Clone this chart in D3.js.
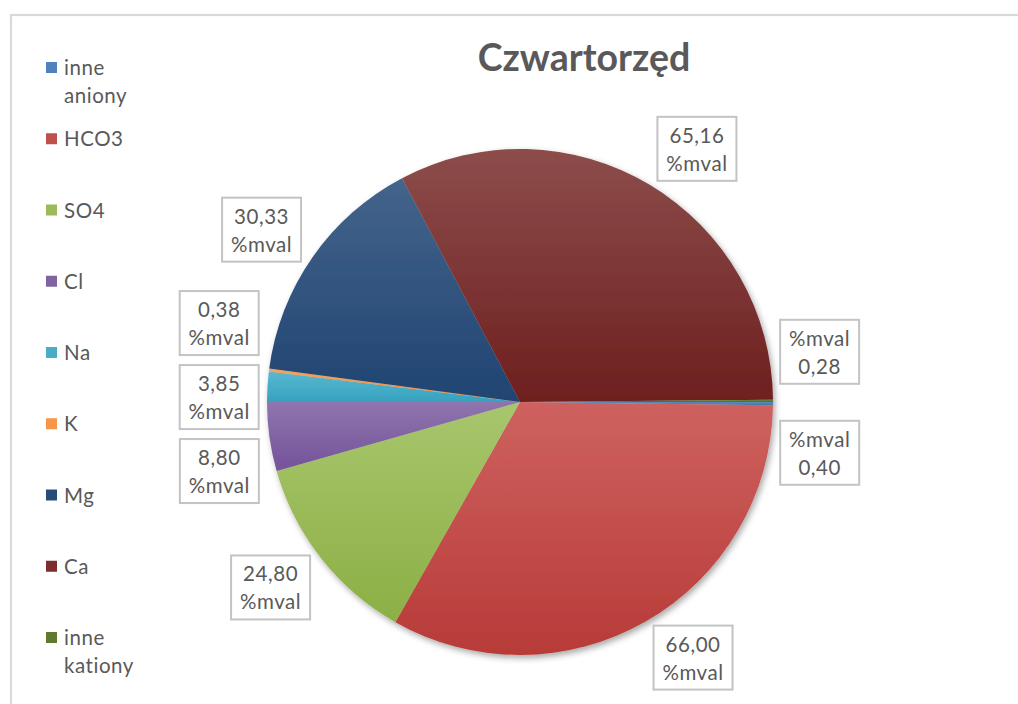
<!DOCTYPE html>
<html>
<head>
<meta charset="utf-8">
<script src="https://cdn.jsdelivr.net/npm/d3@7"></script>
<style>
  html, body { margin: 0; padding: 0; background: #ffffff; }
  svg { display: block; }
  text { font-family: Lato, "Open Sans", sans-serif; fill: #595959; }
</style>
</head>
<body>
<svg id="chart" width="1018" height="704"></svg>
<script>
// Ion composition of Quaternary groundwater, in %mval
const categories = ["inne aniony", "HCO3", "SO4", "Cl", "Na", "K", "Mg", "Ca", "inne kationy"];
const values     = [0.40, 66.00, 24.80, 8.80, 3.85, 0.38, 30.33, 65.16, 0.28];
const legendLines = [["inne", "aniony"], ["HCO3"], ["SO4"], ["Cl"], ["Na"], ["K"], ["Mg"], ["Ca"], ["inne", "kationy"]];
const unitFirst   = ["inne aniony", "inne kationy"];   // labels written as "%mval" then the value
const title = "Czwartorzęd";
const unit = "%mval";

// base colour, lighter top stop, darker bottom stop for each slice
const colors = ["#4F81BD", "#C0504D", "#9BBB59", "#8064A2", "#4BACC6", "#F79646", "#284C79", "#7B2E2C", "#61792F"];
const topColors = ["#5A8CC6", "#CE625F", "#A8C66D", "#8F75AE", "#5AB8D0", "#F9A25A", "#44648B", "#8C4D4B", "#71893F"];
const botColors = ["#44749F", "#B73B38", "#8CAF45", "#74529A", "#35A2BF", "#EE8A38", "#1F4472", "#6E1F1E", "#526A25"];

const W = 1018, H = 704;
const cx = 520, cy = 402, R = 253;
const textSize = 20.5, textSpacing = 0.55;
const svg = d3.select("#chart");
const defs = svg.append("defs");

// chart area frame
svg.append("rect")
  .attr("x", 11).attr("y", 15).attr("width", W + 20).attr("height", H + 20)
  .attr("fill", "#ffffff").attr("stroke", "#d9d9d9").attr("stroke-width", 2.2);

// soft drop shadow under the pie
const sh = defs.append("filter").attr("id", "pieShadow")
  .attr("x", "-10%").attr("y", "-10%").attr("width", "125%").attr("height", "125%");
sh.append("feDropShadow").attr("dx", 2).attr("dy", 3).attr("stdDeviation", 3)
  .attr("flood-color", "#000").attr("flood-opacity", 0.35);

// vertical gradient per slice
categories.forEach((c, i) => {
  const g = defs.append("linearGradient").attr("id", "grad" + i)
    .attr("x1", 0).attr("y1", 0).attr("x2", 0).attr("y2", 1);
  g.append("stop").attr("offset", "0%").attr("stop-color", topColors[i]);
  g.append("stop").attr("offset", "100%").attr("stop-color", botColors[i]);
});

const data = categories.map((c, i) => ({ name: c, value: values[i], i }));

// slices run clockwise from 3 o'clock
const pie = d3.pie().sort(null).value(d => d.value)
  .startAngle(Math.PI / 2).endAngle(Math.PI / 2 + 2 * Math.PI);
const arcs = pie(data);
const arc = d3.arc().innerRadius(0).outerRadius(R);

const pieG = svg.append("g").attr("transform", `translate(${cx},${cy})`)
  .attr("filter", "url(#pieShadow)");
pieG.selectAll("path").data(arcs).join("path")
  .attr("d", arc)
  .attr("fill", d => `url(#grad${d.data.i})`);

// title
svg.append("text")
  .attr("x", 584).attr("y", 71)
  .attr("text-anchor", "middle")
  .attr("font-size", 37.5).attr("font-weight", "bold")
  .text(title);

// legend
const legendX = 46, legendY0 = 68, legendStep = 71.25;
const leg = svg.append("g");
data.forEach((d, i) => {
  const y = legendY0 + i * legendStep;
  leg.append("rect").attr("x", legendX).attr("y", y - 6).attr("width", 11).attr("height", 11)
    .attr("fill", colors[i]);
  const t = leg.append("text").attr("x", legendX + 18).attr("y", y + 7)
    .attr("font-size", textSize).attr("letter-spacing", textSpacing);
  legendLines[i].forEach((line, k) => {
    t.append("tspan").attr("x", legendX + 18).attr("dy", k === 0 ? 0 : 28).text(line);
  });
});

// data labels
const pl = d3.formatLocale({ decimal: ",", thousands: " ", grouping: [3], currency: ["", ""] });
const fmt = pl.format(".2f");
const labelG = svg.append("g");
const labels = arcs.map(a => {
  const lines = unitFirst.includes(a.data.name) ? [unit, fmt(a.data.value)] : [fmt(a.data.value), unit];
  const g = labelG.append("g");
  const rect = g.append("rect").attr("fill", "#ffffff").attr("stroke", "#c3c3c3").attr("stroke-width", 2);
  const texts = lines.map(l => g.append("text").attr("text-anchor", "middle")
    .attr("font-size", textSize).attr("letter-spacing", textSpacing).text(l));
  const tw = d3.max(texts, t => t.node().getComputedTextLength());
  const bw = Math.round(tw + 18), bh = 64;
  // screen angle of the slice middle, tilted a little towards the horizontal near top and bottom
  const mid = (a.startAngle + a.endAngle) / 2 - Math.PI / 2;
  const sx = Math.cos(mid), sy = Math.sin(mid);
  const phi = mid - Math.sign(sx) * 0.113 * sy * sy * sy;
  const dx = Math.cos(phi), dy = Math.sin(phi);
  const support = Math.abs(dx) * bw / 2 + Math.abs(dy) * bh / 2;
  const dist = R + 7 + support;
  return { g, rect, texts, bw, bh, x: cx + dx * dist, y0: cy + dy * dist, y: cy + dy * dist, side: dx < 0 ? "L" : "R" };
});

// push overlapping labels apart vertically, keeping each group centred on its natural position
function spread(items, gap) {
  items.sort((a, b) => a.y0 - b.y0);
  let clusters = items.map(d => ({ items: [d] }));
  const place = c => {
    const mean = d3.mean(c.items, d => d.y0);
    c.items.forEach((d, k) => { d.y = mean + (k - (c.items.length - 1) / 2) * gap; });
  };
  clusters.forEach(place);
  let merged = true;
  while (merged) {
    merged = false;
    for (let k = 0; k < clusters.length - 1; k++) {
      const a = clusters[k], b = clusters[k + 1];
      if (b.items[0].y - a.items[a.items.length - 1].y < gap) {
        a.items = a.items.concat(b.items);
        clusters.splice(k + 1, 1);
        place(a);
        merged = true;
        break;
      }
    }
  }
}
spread(labels.filter(l => l.side === "L"), 74);
spread(labels.filter(l => l.side === "R"), 101);

labels.forEach(l => {
  l.rect.attr("x", l.x - l.bw / 2).attr("y", l.y - l.bh / 2).attr("width", l.bw).attr("height", l.bh);
  l.texts[0].attr("x", l.x).attr("y", l.y - 6);
  l.texts[1].attr("x", l.x).attr("y", l.y + 22);
});
</script>
</body>
</html>
